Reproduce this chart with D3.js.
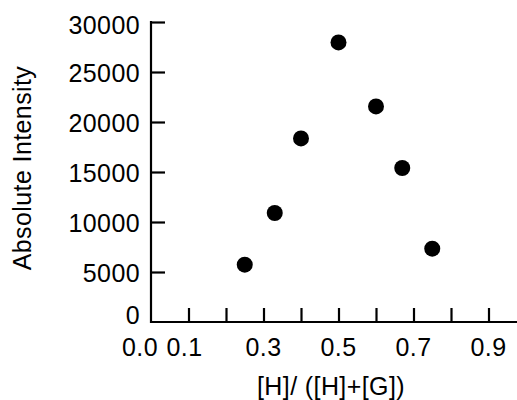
<!DOCTYPE html>
<html>
<head>
<meta charset="utf-8">
<script src="https://cdn.jsdelivr.net/npm/d3@7"></script>
<style>
  body { margin: 0; background: #fff; }
  text { font-family: "Liberation Sans", Arial, Helvetica, sans-serif; fill: #000; }
</style>
</head>
<body>
<script>
// data
var ratio = [0.25, 0.33, 0.40, 0.50, 0.60, 0.67, 0.75];
var intensity = [5730, 10900, 18360, 27960, 21560, 15400, 7330];

var xTicks = [0.1, 0.2, 0.3, 0.4, 0.5, 0.6, 0.7, 0.8, 0.9];
var xLabels = ["0.0", "0.1", "0.3", "0.5", "0.7", "0.9"];
var yTicks = [0, 5000, 10000, 15000, 20000, 25000, 30000];

var width = 517, height = 400;
var fs = 25, ls = 0.4;

var x = d3.scaleLinear().domain([0, 1]).range([151, 526]);
var y = d3.scaleLinear().domain([0, 30000]).range([322, 22]);

var svg = d3.select("body").append("svg")
    .attr("width", width)
    .attr("height", height);

// x axis: ticks point inward, labels drawn separately
var gx = svg.append("g")
    .attr("transform", "translate(0," + y(0) + ")")
    .call(d3.axisBottom(x.copy().domain([0, 0.976]).range([151, 517]))
        .tickValues(xTicks)
        .tickSize(-14)
        .tickSizeOuter(0)
        .tickFormat(""));
gx.selectAll("path, line").attr("stroke", "#000").attr("stroke-width", 2.2);
gx.select(".domain").attr("d", "M150,0H517");

// nudge the crowded labels near the origin
var xNudge = { "0.0": -11, "0.1": -4 };
svg.append("g").selectAll("text")
    .data(xLabels)
    .enter().append("text")
    .attr("x", function (d) { return x(+d) + (xNudge[d] || 0); })
    .attr("y", 356)
    .attr("text-anchor", "middle")
    .attr("font-size", fs)
    .attr("letter-spacing", ls)
    .text(function (d) { return d; });

// y axis
var gy = svg.append("g")
    .attr("transform", "translate(151,0)")
    .call(d3.axisLeft(y)
        .tickValues(yTicks)
        .tickSize(-14)
        .tickSizeOuter(0)
        .tickPadding(11)
        .tickFormat(d3.format("d")));
gy.selectAll("path, line").attr("stroke", "#000").attr("stroke-width", 2.2);
gy.select(".domain").attr("d", "M0,21V323");
gy.selectAll(".tick line").filter(function (d) { return d === 0; }).remove();
gy.selectAll("text")
    .attr("font-size", fs)
    .attr("letter-spacing", ls)
    .attr("font-family", null)
    .attr("dy", function (d) { return d === 0 ? "0.05em" : d === 30000 ? "0.45em" : "0.36em"; });

// points
svg.append("g").selectAll("circle")
    .data(ratio)
    .enter().append("circle")
    .attr("cx", function (d) { return x(d); })
    .attr("cy", function (d, i) { return y(intensity[i]); })
    .attr("r", 8)
    .attr("fill", "#000");

// axis titles
svg.append("text")
    .attr("x", 331)
    .attr("y", 395)
    .attr("text-anchor", "middle")
    .attr("font-size", fs)
    .attr("letter-spacing", ls)
    .text("[H]/ ([H]+[G])");

svg.append("text")
    .attr("transform", "translate(31,168) rotate(-90)")
    .attr("text-anchor", "middle")
    .attr("font-size", fs)
    .attr("letter-spacing", ls)
    .text("Absolute Intensity");
</script>
</body>
</html>
